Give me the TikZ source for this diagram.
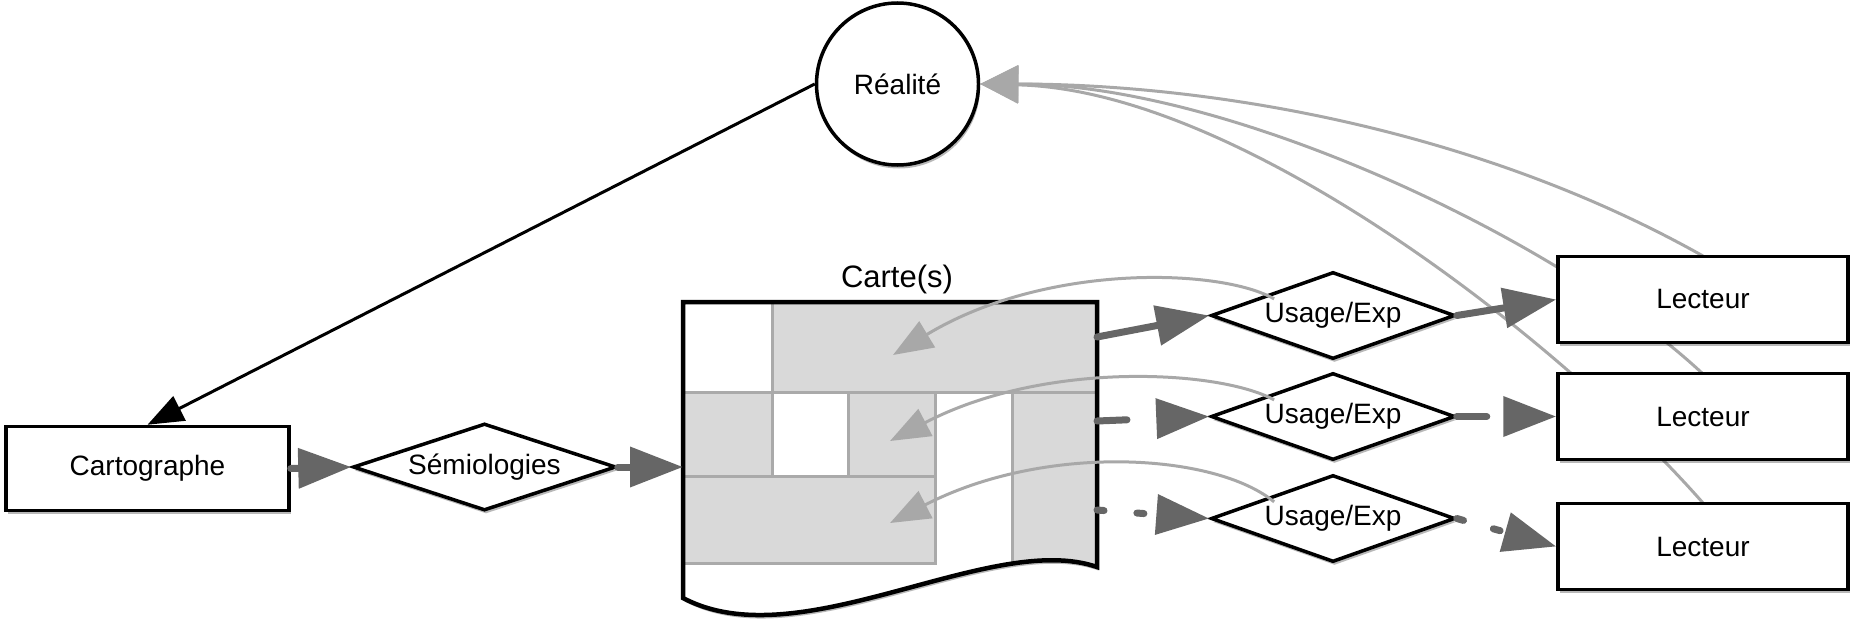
\documentclass[tikz,border=0pt]{standalone}
\usepackage{fontspec}
\setmainfont{Liberation Sans}
\usetikzlibrary{arrows.meta,shapes.geometric,shadows}
\definecolor{dgray}{HTML}{666666}
\definecolor{lgray}{HTML}{A8A8A8}
\definecolor{cellfill}{HTML}{D9D9D9}
\definecolor{gridgray}{HTML}{AAAAAA}
\tikzset{
  shapeshadow/.style={drop shadow={shadow xshift=1.5pt, shadow yshift=-3.5pt, opacity=0.28, fill=black}},
  labelfont/.style={font=\fontsize{28}{32}\selectfont},
  boxnode/.style={rectangle, draw=black, line width=3.5pt, fill=white, inner sep=0pt, labelfont, shapeshadow},
  diamnode/.style={diamond, aspect=2.8, draw=black, line width=3.5pt, fill=white, inner sep=0pt,
    minimum width=244pt, minimum height=87pt, labelfont, shapeshadow},
  roundnode/.style={circle, draw=black, line width=3.5pt, fill=white, inner sep=0pt, minimum size=162pt, labelfont, shapeshadow},
  flowarrow/.style={color=dgray, line width=7pt, line cap=round, -{Triangle[length=53pt,width=39pt]}},
  blackarrow/.style={color=black, line width=3pt, -{Triangle[length=36pt,width=27pt]}},
  backline/.style={color=lgray, line width=3pt, -{Triangle[length=40pt,width=30pt]}},
  feedline/.style={color=lgray, line width=3pt, -{Triangle[length=38pt,width=37pt]}},
  cellbox/.style={fill=cellfill, draw=gridgray, line width=3pt}
}
\def\mycardpath{(683,302) -- (1097,302) -- (1097,567) .. controls (990,530) and (800,660) .. (683,598) -- cycle}
\begin{document}
\begin{tikzpicture}[x=1pt,y=-1pt]
\useasboundingbox (0,0) rectangle (1851,626);

% named coordinates on the map
\coordinate (cardin) at (683,467);
\coordinate (cardo1) at (1097,337);
\coordinate (cardo2) at (1097,421);
\coordinate (cardo3) at (1097,510);
\coordinate (cell1) at (893,355);
\coordinate (cell2) at (890,441);
\coordinate (cell3) at (890,523);

% nodes
\node[roundnode] (R) at (897.5,84) {Réalité};
\node[boxnode, minimum width=283pt, minimum height=84pt] (C) at (147.5,468.5) {Cartographe};
\node[diamnode, minimum width=263pt] (S) at (484.5,467) {Sémiologies};
\node[diamnode] (U1) at (1333,315.5) {Usage/Exp};
\node[diamnode] (U2) at (1333,416.5) {Usage/Exp};
\node[diamnode] (U3) at (1333,518.5) {Usage/Exp};

% feedback curves to Réalité (behind the Lecteur boxes)
\draw[feedline] (1703,256) .. controls (1470,125) and (1200,84) .. (R.east);
\draw[feedline] (1703,374) .. controls (1560,240) and (1230,84) .. (R.east);
\draw[feedline] (1703,503) .. controls (1560,340) and (1240,90) .. (R.east);

\node[boxnode, minimum width=290pt, minimum height=86pt] (L1) at (1703,299.5) {Lecteur};
\node[boxnode, minimum width=290pt, minimum height=86pt] (L2) at (1703,416.5) {Lecteur};
\node[boxnode, minimum width=290pt, minimum height=86pt] (L3) at (1703,546.5) {Lecteur};

% the map (Carte(s))
\fill[black, opacity=0.28, shift={(1.5pt,-3.5pt)}] \mycardpath;
\fill[white] \mycardpath;
\begin{scope}
  \clip \mycardpath;
  \path[cellbox] (772,302) rectangle (1097,392);
  \path[cellbox] (683,392) rectangle (772,476);
  \path[cellbox] (848,392) rectangle (935,476);
  \path[cellbox] (1012,392) rectangle (1097,650);
  \path[cellbox] (683,476) rectangle (935,563);
\end{scope}
\draw[line width=4.5pt] \mycardpath;
\node[font=\fontsize{31}{36}\selectfont, anchor=base] (cartelabel) at (897,287) {Carte(s)};

% connectors
\draw[blackarrow] (R.west) -- (C.north);
\draw[flowarrow] (C.east) -- (S.west);
\draw[flowarrow] (S.east) -- (cardin);
\draw[flowarrow] (cardo1) -- (U1.west);
\draw[flowarrow] (U1.east) -- (L1.west);
\draw[flowarrow, dash pattern=on 30pt off 50pt] (cardo2) -- (U2.west);
\draw[flowarrow, dash pattern=on 30pt off 50pt] (U2.east) -- (L2.west);
\draw[flowarrow, dash pattern=on 7pt off 33pt] (cardo3) -- (U3.west);
\draw[flowarrow, dash pattern=on 7pt off 31pt] (U3.east) -- (L3.west);

% usage curves back into the map
\draw[backline] ([shift={(3pt,-6pt)}]U1.north west) .. controls (1220,268) and (1045,263) .. (cell1);
\draw[backline] ([shift={(3pt,-6pt)}]U2.north west) .. controls (1220,370) and (1045,360) .. (cell2);
\draw[backline] ([shift={(3pt,-6pt)}]U3.north west) .. controls (1215,453) and (1045,443) .. (cell3);
\end{tikzpicture}
\end{document}
